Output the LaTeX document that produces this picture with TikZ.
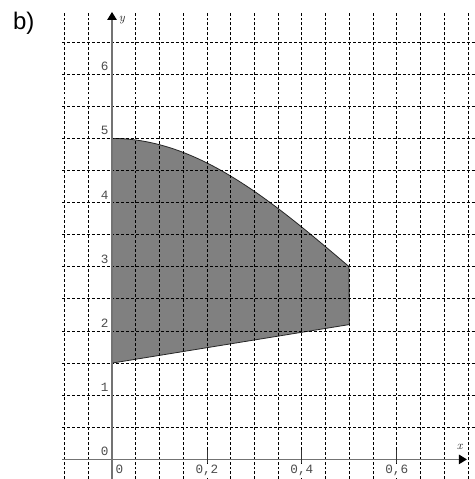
\documentclass[tikz,border=0pt]{standalone}
\usepackage{fontspec}
\newfontfamily\lblfont{Liberation Mono}
\newfontfamily\bfont{Liberation Sans}
\usetikzlibrary{arrows.meta}
\begin{document}
\begin{tikzpicture}[x=355.9pt,y=48.15pt,
  gridline/.style={black, line width=0.6pt, dash pattern=on 2.2pt off 1.5pt},
  axisline/.style={black!55, line width=1.1pt},
  ticklbl/.style={font=\lblfont\fontsize{9.5}{9.5}\selectfont, text=black!70, inner sep=1pt},
  axlbl/.style={font=\itshape\fontsize{9}{9}\selectfont, text=black!80, inner sep=0pt},
  region/.style={fill=black!50, draw=black!85, line width=0.6pt},
  tip/.style={-{Triangle[length=6pt,width=7pt,fill=black,color=black]}}]
\useasboundingbox (-0.23604,-0.3053) rectangle (0.76291,7.1558);
% region
\filldraw[region] (0,1.5) -- (0,5) -- plot[domain=0:0.5,samples=50] (\x,{3+2*cos(180*\x)}) -- (0.5,2.1) -- cycle;
% grid
\foreach \i in {-2,...,15} \draw[gridline] (\i*0.05,-0.31) -- (\i*0.05,6.97);
\foreach \j in {1,...,13} \draw[gridline] (-0.105,\j*0.5) -- (0.77,\j*0.5);
% axes
\coordinate (xs) at (-0.105,0);
\coordinate (xe) at (0.748,0);
\coordinate (ys) at (0,-0.31);
\coordinate (ye) at (0,6.97);
% x labels
\node[ticklbl, anchor=north west] (xl0) at (0.004,-0.07) {0};
\node[ticklbl, fill=white, anchor=north] (xl2) at (0.2,-0.07) {0,2};
\node[ticklbl, fill=white, anchor=north] (xl4) at (0.4,-0.07) {0,4};
\node[ticklbl, fill=white, anchor=north] (xl6) at (0.6,-0.07) {0,6};
\draw[axisline, tip] (xs) -- (xe);
\draw[axisline, tip] (ys) -- (ye);
% ticks
\foreach \t in {0.2,0.4,0.6} \draw[black!80, line width=0.6pt] (\t,-0.05) -- (\t,0.15);
% y labels
\foreach \k in {0,...,6} \node[ticklbl, anchor=south east] (yl\k) at (-0.004,\k+0.03) {\k};
% axis names
\node[axlbl] (xname) at (0.733,0.2) {x};
\node[axlbl] (yname) at (0.021,6.84) {y};
% title
\node[font=\bfont\fontsize{18}{18}\selectfont, inner sep=0pt] (title) at (-0.186,6.8) {b)};
\end{tikzpicture}
\end{document}
